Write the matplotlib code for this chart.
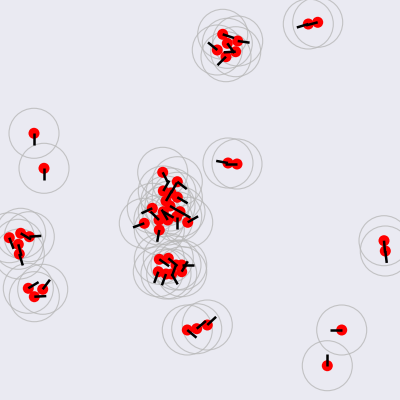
import numpy as np
import matplotlib
matplotlib.use("Agg")
import matplotlib.pyplot as plt
from matplotlib.patches import Circle

# Agent positions (pixel units, y downward) and headings (degrees, screen coords)
pos_x = [222.7, 237.7, 227.3, 217.3, 235.7, 226.0,
         308.3, 317.7,
         34.0, 44.0,
         9.3, 20.7, 29.3, 18.3, 19.3, 28.3, 42.7, 34.3,
         228.0, 237.0,
         384.0, 385.3, 341.7, 327.3,
         187.3, 196.7, 207.3,
         162.7, 177.3, 163.3, 177.3, 166.0, 152.3, 163.3, 180.0, 159.0, 167.7, 176.7, 187.7, 144.3, 159.3,
         171.0, 170.0,
         159.3, 168.3, 176.0, 181.7, 158.3, 166.0, 171.7, 181.7]
pos_y = [34.3, 41.0, 43.3, 50.0, 51.7, 56.7,
         24.0, 22.3,
         133.3, 168.3,
         237.7, 233.3, 236.7, 244.3, 254.0, 288.3, 289.3, 296.7,
         163.0, 164.0,
         240.7, 251.0, 330.0, 365.7,
         330.0, 328.7, 325.0,
         172.3, 181.7, 191.0, 197.3, 201.0, 208.3, 211.7, 211.7, 220.0, 220.0, 216.7, 222.3, 223.3, 230.0,
         193.0, 206.0,
         259.3, 258.3, 265.0, 265.0, 271.7, 274.0, 274.0, 271.7]
heading = [18, 8, 54, 219, 177, 135,
           163, 165,
           90, 90,
           69, 31, 356, 75, 73, 329, 307, 357,
           190, 180,
           85, 83, 180, 270,
           40, 320, 317,
           63, 38, 300, 30, 300, 155, 30, 30, 225, 240, 90, 330, 160, 100,
           300, 30,
           35, 40, 110, 0, 110, 110, 60, 300]

L = 12.0
R_view = 25.0
R_dot = 5.5

fig = plt.figure(figsize=(4, 4), dpi=100)
fig.patch.set_facecolor("#eaeaf2")
ax = fig.add_axes([0, 0, 1, 1])
ax.set_facecolor("#eaeaf2")
ax.set_xlim(0, 400)
ax.set_ylim(400, 0)
ax.set_aspect("equal")
ax.axis("off")

xs = np.array(pos_x)
ys = np.array(pos_y)
th = np.deg2rad(np.array(heading))

for x, y in zip(xs, ys):
    ax.add_patch(Circle((x, y), R_view, fill=False, edgecolor="#b8b8b8",
                        linewidth=0.8, alpha=0.8, zorder=1))
for x, y in zip(xs, ys):
    ax.add_patch(Circle((x, y), R_dot, facecolor="red", edgecolor="none", zorder=2))
for x, y, t in zip(xs, ys, th):
    ax.plot([x, x + L * np.cos(t)], [y, y + L * np.sin(t)], color="black",
            linewidth=1.8, solid_capstyle="butt", zorder=3)

fig.savefig("out.png", dpi=100, facecolor=fig.get_facecolor())
